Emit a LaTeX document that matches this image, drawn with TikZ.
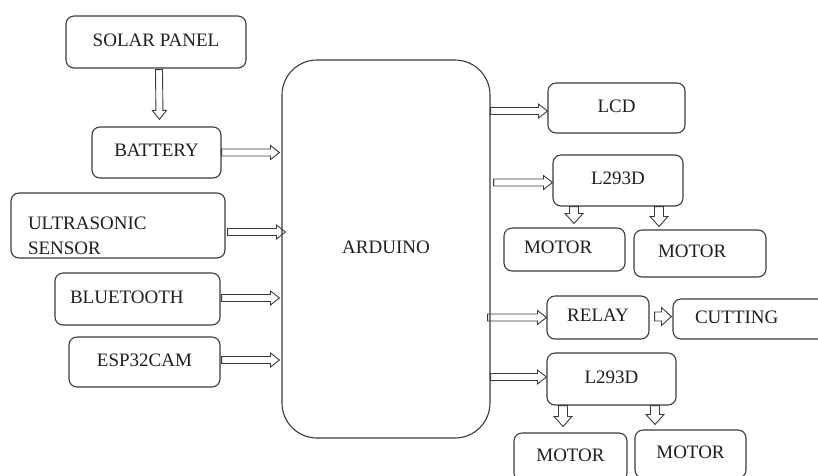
\documentclass[tikz,border=0pt]{standalone}
\usepackage{fontspec}
\setmainfont{Liberation Serif}[Ligatures=TeX]
\newfontfamily\tms{Liberation Serif}
\usetikzlibrary{calc}
\definecolor{lc}{HTML}{3A3A3A}
\definecolor{tc}{HTML}{1E1E1E}
\begin{document}
\begin{tikzpicture}[x=1pt,y=-1pt,
  box/.style={draw=lc, line width=1.1pt, rounded corners=8pt, inner sep=0pt,
    text depth=4pt, text=tc, font=\tms\fontsize{19}{25}\selectfont},
  sz/.style 2 args={minimum width=#1pt, minimum height=#2pt},
  lft/.style 2 args={align=left, inner xsep=#1pt, text width=#2pt},
  hollow/.style n args={3}{to path={
    coordinate (hA) (\tikztotarget) coordinate (hB)
    ($(hB)!#3pt!(hA)$) coordinate (hH)
    ($(hA)!#1pt!90:(hB)$) -- ($(hH)!#1pt!90:(hB)$) -- ($(hH)!#2pt!90:(hB)$) -- (hB)
    -- ($(hH)!#2pt!-90:(hB)$) -- ($(hH)!#1pt!-90:(hB)$) -- ($(hA)!#1pt!-90:(hB)$) -- cycle}},
  harrow/.style={draw=lc, line width=0.9pt, line join=miter, hollow={3.5}{7}{9}},
  farrow/.style={draw=lc, line width=0.9pt, line join=miter, hollow={4.5}{9}{10}}]
\useasboundingbox (0,0) rectangle (818,475);
\clip (0,0) rectangle (818,475);

% left column
\node[box, sz={180}{52}] (sol) at (156,42) {SOLAR PANEL};
\node[box, sz={129}{51}] (bat) at (156.5,152.5) {BATTERY};
\node[box, sz={214}{65}, lft={17}{180}] (ult) at (118,225.5) {ULTRASONIC\\SENSOR};
\node[box, sz={165}{52}, lft={15}{135}] (blu) at (137.5,299) {BLUETOOTH};
\node[box, sz={151}{50}] (esp) at (144.5,362) {ESP32CAM};

% controller
\node[box, sz={208}{378}, rounded corners=35pt] (ard) at (386,249) {ARDUINO};

% right column
\node[box, sz={137}{50}] (lcd) at (616.5,108) {LCD};
\node[box, sz={130}{51}] (l1) at (618,180.5) {L293D};
\node[box, sz={121}{43}, lft={20}{81}] (m1) at (564.5,249.5) {MOTOR};
\node[box, sz={132}{47}, lft={24}{84}] (m2) at (700,253.5) {MOTOR};
\node[box, sz={102}{43}] (rel) at (598,317.5) {RELAY};
\node[box, sz={170}{40}, lft={22}{126}] (cut) at (758,319) {CUTTING};
\node[box, sz={129}{52}] (l2) at (611.5,379) {L293D};
\node[box, sz={113}{48}] (m3) at (570.5,457) {MOTOR};
\node[box, sz={111}{48}] (m4) at (690.5,454) {MOTOR};

% connectors
\draw[harrow] ($(sol.south)+(3,1)$) to ($(bat.north)+(3,-7)$);
\draw[harrow] (bat.east) to ($(bat.east -| ard.west)+(-2,0)$);
\draw[harrow] ($(ult.east)+(2,6.5)$) to ($(ult.east -| ard.west)+(4,6.5)$);
\draw[harrow] ($(blu.east)+(1,-1)$) to ($(blu.east -| ard.west)+(-2,-1)$);
\draw[harrow] ($(esp.east)+(1,-2)$) to ($(esp.east -| ard.west)+(-2,-2)$);

\draw[harrow] ($(lcd.west -| ard.east)+(0,3)$) to ($(lcd.west)+(0,3)$);
\draw[harrow] ($(l1.west -| ard.east)+(3,2)$) to ($(l1.west)+(0,2)$);
\draw[farrow] ($(l1.south -| m1.north)+(9.5,0)$) to ($(m1.north)+(9.5,-4)$);
\draw[farrow] ($(l1.south -| m2.north)+(-41,0)$) to ($(m2.north)+(-41,-3)$);
\draw[harrow] ($(rel.west -| ard.east)+(-3,0)$) to (rel.west);
\draw[farrow] ($(rel.east)+(5,-1)$) to ($(rel.east -| cut.west)+(-1,-1)$);
\draw[harrow] ($(l2.west -| ard.east)+(0,-2)$) to ($(l2.west)+(0,-2)$);
\draw[farrow] ($(l2.south -| m3.north)+(-7.5,0)$) to ($(m3.north)+(-7.5,-6)$);
\draw[farrow] ($(l2.south -| m4.north)+(-35.5,0)$) to ($(m4.north)+(-35.5,-5)$);
\end{tikzpicture}
\end{document}
